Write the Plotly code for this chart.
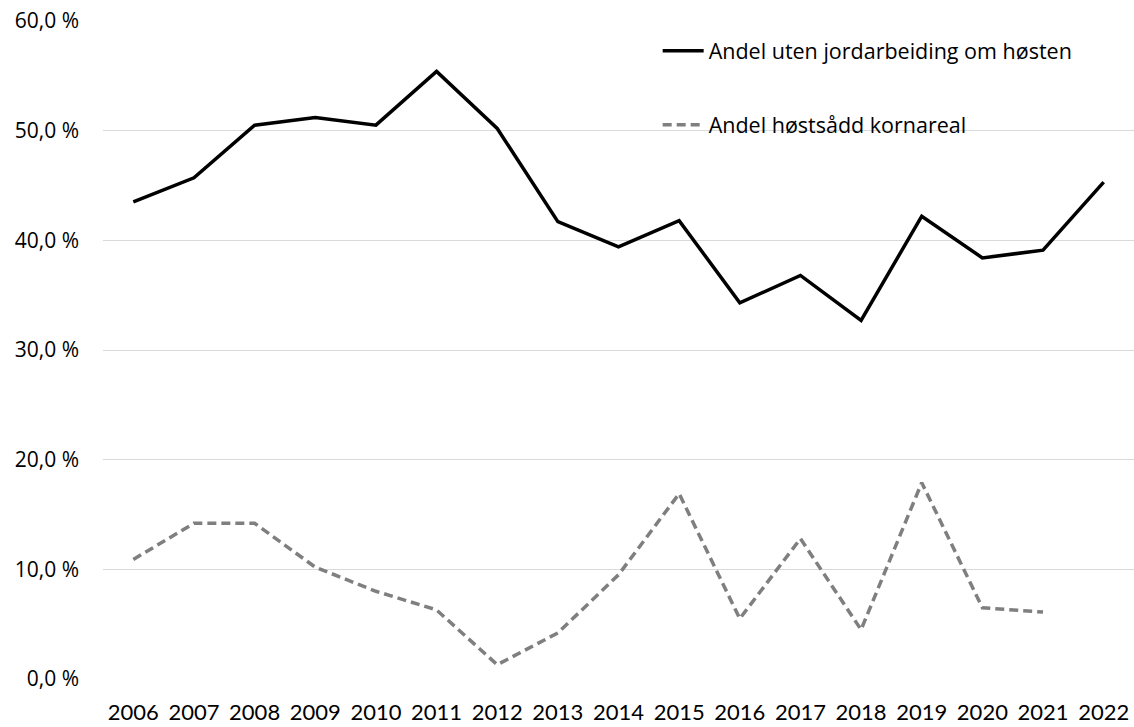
import plotly.graph_objects as go

years = [str(y) for y in range(2006, 2023)]

uten_jordarbeiding = [43.5, 45.7, 50.5, 51.2, 50.5, 55.4, 50.2, 41.7, 39.4,
                      41.8, 34.3, 36.8, 32.7, 42.2, 38.4, 39.1, 45.3]

hostsadd_korn = [10.9, 14.2, 14.2, 10.2, 8.0, 6.3, 1.3, 4.2, 9.5,
                 16.9, 5.5, 12.8, 4.5, 17.9, 6.5, 6.1]

y_ticks = [0, 10, 20, 30, 40, 50, 60]
y_tick_labels = ["0,0 %", "10,0 %", "20,0 %", "30,0 %", "40,0 %", "50,0 %", "60,0 %"]

fig = go.Figure()

fig.add_trace(go.Scatter(
    x=years, y=uten_jordarbeiding, mode="lines",
    name="Andel uten jordarbeiding om høsten",
    line=dict(color="#000000", width=3.5),
    legendgroup="a",
))

fig.add_trace(go.Scatter(
    x=years[:len(hostsadd_korn)], y=hostsadd_korn, mode="lines",
    name="Andel høstsådd kornareal",
    line=dict(color="#7f7f7f", width=3.5, dash="9px,5px"),
    legendgroup="b",
))

fig.update_layout(
    width=1134, height=727,
    margin=dict(l=103, r=0, t=21, b=48),
    paper_bgcolor="white", plot_bgcolor="white",
    font=dict(family="Open Sans", color="#000000"),
    showlegend=True,
    legend=dict(
        x=0.538, y=0.986, xanchor="left", yanchor="top",
        font=dict(family="Open Sans", size=21.5, color="#000000"),
        bgcolor="rgba(0,0,0,0)",
        tracegroupgap=43,
        itemwidth=41,
    ),
    xaxis=dict(
        type="category",
        range=[-0.5, 16.5],
        showgrid=False, showline=False, zeroline=False,
        ticks="",
        ticklabelstandoff=18,
        tickfont=dict(family="Lato", size=22, color="#000000"),
    ),
    yaxis=dict(
        range=[0, 60],
        tickvals=y_ticks, ticktext=y_tick_labels,
        showgrid=True, gridcolor="#d9d9d9", gridwidth=1,
        zeroline=False, showline=False, ticks="",
        ticklabelstandoff=23,
        tickfont=dict(family="Open Sans", size=21, color="#000000"),
    ),
)

fig.write_html("out.html")
